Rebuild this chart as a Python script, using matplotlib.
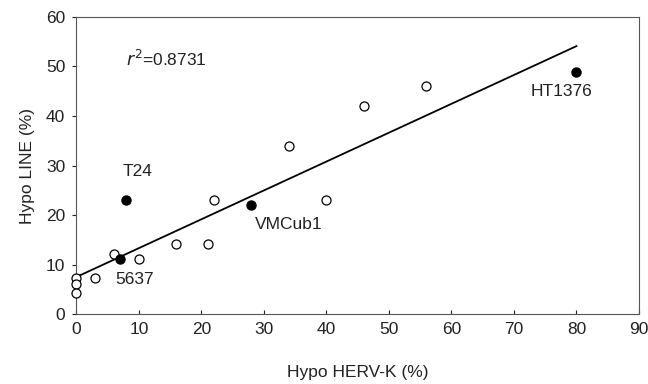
import matplotlib
matplotlib.use("Agg")
import matplotlib.pyplot as plt
import numpy as np

plt.rcParams['font.family'] = ['Liberation Sans', 'DejaVu Sans']

# open circles: other samples
open_x = [0, 0, 0, 3, 6, 10, 16, 21, 22, 34, 40, 46, 56]
open_y = [7.2, 6.0, 4.2, 7.2, 12.2, 11.2, 14.2, 14.2, 23.1, 34, 23.1, 42, 46]

# filled circles: named cell lines
cell_names = ['5637', 'T24', 'VMCub1', 'HT1376']
cell_x = [7, 8, 28, 80]
cell_y = [11.2, 23.1, 22.0, 48.8]
label_x = [6.2, 7.4, 28.6, 72.6]
label_y = [7.0, 28.7, 18.0, 45.0]

# regression line
fit_intercept = 7.5
fit_slope = 0.5825
fit_range = [0, 80]
r2_text = '$r^2$=0.8731'

fs = 12.5
fig = plt.figure(figsize=(6.48, 3.84), dpi=100)
ax = fig.add_axes([0.118, 0.182, 0.868, 0.774])

xs = np.array(fit_range)
ax.plot(xs, fit_intercept + fit_slope * xs, color='black', lw=1.3, zorder=2)

ax.plot(open_x, open_y, 'o', ms=6.5, mfc='white', mec='black', mew=0.9,
        clip_on=False, zorder=3)
ax.plot(cell_x, cell_y, 'o', ms=6.5, mfc='black', mec='black', zorder=3)

for name, lx, ly in zip(cell_names, label_x, label_y):
    ax.text(lx, ly, name, fontsize=fs, va='center', ha='left', color='#222222')

ax.text(8, 51.5, r2_text, fontsize=fs, va='center', ha='left', color='#222222')

ax.set_xlim(0, 90)
ax.set_ylim(0, 60)
ax.set_xticks(range(0, 91, 10))
ax.set_yticks(range(0, 61, 10))
ax.tick_params(length=3, width=0.8, labelsize=fs, colors='#222222')
ax.tick_params(axis='x', direction='in', pad=6)
ax.tick_params(axis='y', direction='out', pad=5)
for s in ax.spines.values():
    s.set_color('#555555')
    s.set_linewidth(0.8)

ax.set_xlabel('Hypo HERV-K (%)', fontsize=fs, labelpad=20, color='#222222')
ax.set_ylabel('Hypo LINE (%)', fontsize=fs, labelpad=8, color='#222222')

fig.savefig('out.png', dpi=100)
